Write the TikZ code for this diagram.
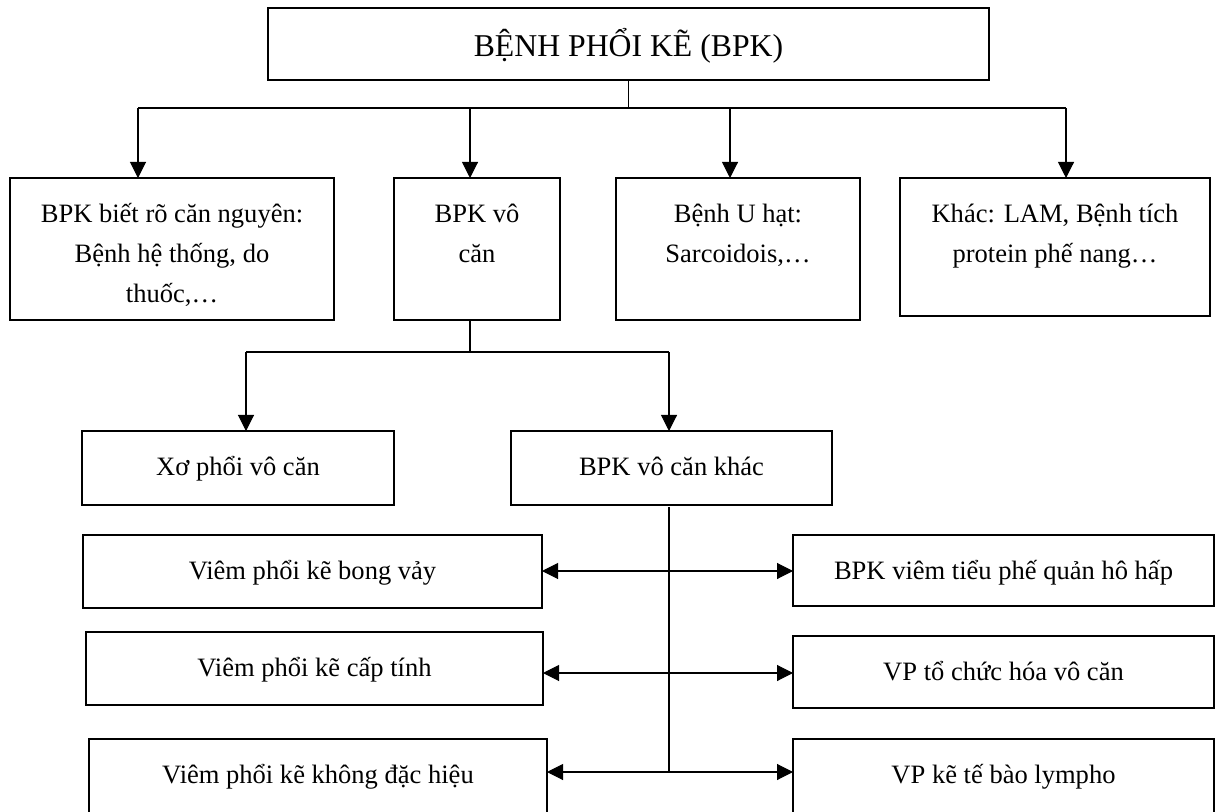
\documentclass[tikz,border=0pt]{standalone}
\usepackage{fontspec}
\setmainfont{Liberation Serif}
\usetikzlibrary{arrows.meta}
\newcommand\tstrut{\rule{0pt}{22.5pt}}
\newcommand\pbox[5]{\node[boxst, anchor=north west, minimum width={(#4-#2)*0.75pt}, minimum height={(#5-#3)*0.75pt}] (#1) at (#2,#3) {};}
\begin{document}
\begin{tikzpicture}[x=0.75pt, y=-0.75pt,
  boxst/.style={draw=black, line width=0.8pt, inner sep=0pt, outer sep=0pt},
  txt/.style={anchor=north, inner sep=0pt, align=center, font=\fontsize{19.9pt}{30pt}\selectfont},
  ttl/.style={anchor=base, inner sep=0pt, font=\fontsize{23.8pt}{28pt}\selectfont},
  conn/.style={line width=0.8pt, draw=black},
  arr/.style={conn, -{Triangle[length=12pt,width=12pt]}},
  darr/.style={conn, {Triangle[length=12pt,width=12pt]}-{Triangle[length=12pt,width=12pt]}}]
\useasboundingbox (0,0) rectangle (1216,812);
\fill[white] (0,0) rectangle (1216,812);
\clip (0,0) rectangle (1216,812);

% boxes
\pbox{top}{268}{8}{989}{80}
\pbox{b1}{10}{178}{334}{320}
\pbox{b2}{394}{178}{560}{320}
\pbox{b3}{616}{178}{860}{320}
\pbox{b4}{900}{178}{1210}{316}
\pbox{x1}{82}{431}{394}{505}
\pbox{x2}{511}{431}{832}{505}
\pbox{L1}{83}{535}{542}{608}
\pbox{R1}{793}{535}{1214}{606}
\pbox{L2}{86}{632}{543}{705}
\pbox{R2}{793}{636}{1214}{708}
\pbox{L3}{89}{739}{547}{840}
\pbox{R3}{793}{739}{1214}{840}

% texts
\node[ttl] (tt) at (628.5,57) {BỆNH PHỔI KẼ (BPK)};
\node[txt] (t1) at ([yshift=-10.5pt]b1.north) {\tstrut BPK biết rõ căn nguyên:\\Bệnh hệ thống, do\\thuốc,…};
\node[txt] (t2) at ([yshift=-10.5pt]b2.north) {\tstrut BPK vô\\căn};
\node[txt] (t3) at ([yshift=-10.5pt]b3.north) {\tstrut Bệnh U hạt:\\Sarcoidois,…};
\node[txt] (t4) at ([yshift=-10.5pt]b4.north) {\tstrut Khác: LAM, Bệnh tích\\protein phế nang…};
\node[txt] (tx1) at ([yshift=-10.5pt]x1.north) {\tstrut Xơ phổi vô căn};
\node[txt] (tx2) at ([yshift=-10.5pt]x2.north) {\tstrut BPK vô căn khác};
\node[txt] (tl1) at ([yshift=-10.5pt]L1.north) {\tstrut Viêm phổi kẽ bong vảy};
\node[txt] (tr1) at ([yshift=-10.5pt]R1.north) {\tstrut BPK viêm tiểu phế quản hô hấp};
\node[txt] (tl2) at ([yshift=-10.5pt]L2.north) {\tstrut Viêm phổi kẽ cấp tính};
\node[txt] (tr2) at ([yshift=-10.5pt]R2.north) {\tstrut VP tổ chức hóa vô căn};
\node[txt] (tl3) at ([yshift=-10.5pt]L3.north) {\tstrut Viêm phổi kẽ không đặc hiệu};
\node[txt] (tr3) at ([yshift=-10.5pt]R3.north) {\tstrut VP kẽ tế bào lympho};

% first level connectors
\coordinate (busL) at (138,108);
\coordinate (bus2) at (470,108);
\coordinate (bus3) at (730,108);
\coordinate (busR) at (1066,108);
\draw[conn] (top.south) -- (top.south |- busL);
\draw[conn] (busL) -- (busR);
\draw[arr] (busL) -- (busL |- b1.north);
\draw[arr] (bus2) -- (bus2 |- b2.north);
\draw[arr] (bus3) -- (bus3 |- b3.north);
\draw[arr] (busR) -- (busR |- b4.north);

% second level
\coordinate (j2) at (470,352);
\coordinate (jL) at (246,352);
\coordinate (jR) at (669,352);
\draw[conn] (b2.south -| j2) -- (j2);
\draw[conn] (jL) -- (jR);
\draw[arr] (jL) -- (jL |- x1.north);
\draw[arr] (jR) -- (jR |- x2.north);

% spine and rows
\coordinate (s1) at (669,571);
\coordinate (s2) at (669,673);
\coordinate (s3) at (669,772);
\draw[conn] ([yshift=-1.5pt]x2.south -| s1) -- (s3);
\draw[darr] (L1.east |- s1) -- (R1.west |- s1);
\draw[darr] (L2.east |- s2) -- (R2.west |- s2);
\draw[darr] (L3.east |- s3) -- (R3.west |- s3);
\end{tikzpicture}
\end{document}
